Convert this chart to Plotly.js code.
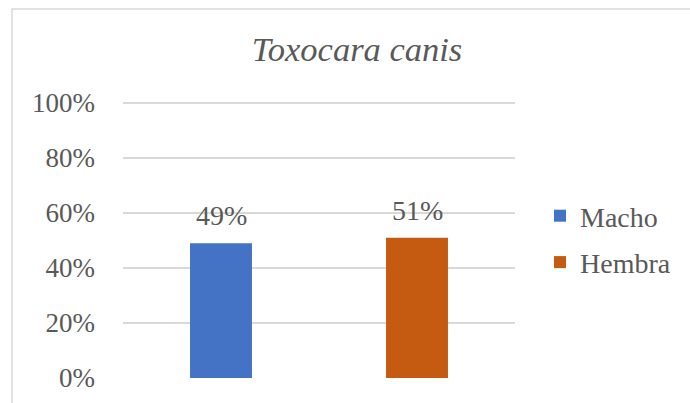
<!DOCTYPE html>
<html>
<head>
<meta charset="utf-8">
<script src="https://cdn.plot.ly/plotly-3.0.1.min.js"></script>
<style>html,body{margin:0;padding:0;background:#fff;}#chart{width:690px;height:403px;}</style>
</head>
<body>
<div id="chart"></div>
<script>
const categories = ["Macho", "Hembra"];
const values = [0.49, 0.51];
const labels = ["49%", "51%"];
const colors = ["#4472C4", "#C55A11"];
const yTicks = [0, 0.2, 0.4, 0.6, 0.8, 1.0];
const yTickText = ["0%", "20%", "40%", "60%", "80%", "100%"];

const FONT = "Liberation Serif";
const TXT = "#595959";

const traces = categories.map((c, i) => ({
  type: "bar",
  name: c,
  x: [c],
  y: [values[i]],
  width: 0.316,
  marker: {color: colors[i]},
  legendgroup: "g" + i,
  hoverinfo: "none"
}));

const annotations = categories.map((c, i) => ({
  x: c, y: values[i], xref: "x", yref: "y",
  text: labels[i], showarrow: false,
  yanchor: "bottom", yshift: 10,
  font: {family: FONT, size: 28, color: TXT}
}));

const PH = 278; // plot height in px (top at 100, bottom at 378)
const layout = {
  width: 690, height: 403,
  margin: {l: 123, r: 175, t: 100, b: 25},
  paper_bgcolor: "#fff", plot_bgcolor: "#fff",
  font: {family: FONT, color: TXT},
  barmode: "overlay",
  title: {
    text: "Toxocara canis",
    font: {family: FONT, size: 34.5, color: TXT, style: "italic"},
    xref: "container", x: 357/690, xanchor: "center",
    yref: "container", y: 1 - 49/403, yanchor: "middle"
  },
  xaxis: {
    type: "category", categoryorder: "array", categoryarray: categories,
    showticklabels: false, showgrid: false, zeroline: false, showline: false, ticks: ""
  },
  yaxis: {
    range: [0, 1.0108], tickvals: yTicks, ticktext: yTickText,
    showgrid: true, gridcolor: "#d9d9d9", gridwidth: 1.3,
    zeroline: false, showline: false, ticks: "",
    ticklabelstandoff: 27,
    tickfont: {family: FONT, size: 27, color: TXT}
  },
  showlegend: true,
  legend: {
    x: (540 - 123)/392, xanchor: "left",
    y: (378 - 191)/PH, yanchor: "top",
    font: {family: FONT, size: 28, color: TXT},
    tracegroupgap: 7,
    bgcolor: "rgba(0,0,0,0)"
  },
  annotations: annotations,
  shapes: [{
    type: "rect", xref: "paper", yref: "paper",
    x0: (12 - 123)/392, x1: (700 - 123)/392,
    y0: (378 - 410)/PH, y1: (378 - 9)/PH,
    line: {color: "#d9d9d9", width: 1.5}, fillcolor: "rgba(0,0,0,0)", layer: "below"
  }]
};

Plotly.newPlot("chart", traces, layout, {displayModeBar: false, staticPlot: true});
</script>
</body>
</html>
